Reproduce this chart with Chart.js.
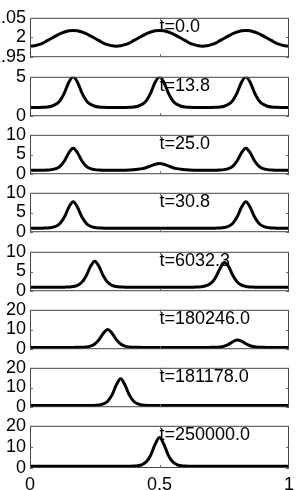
<!DOCTYPE html>
<html>
<head>
<meta charset="utf-8">
<script src="https://cdn.jsdelivr.net/npm/chart.js@4.4.1/dist/chart.umd.min.js"></script>
<style>
  html, body { margin: 0; padding: 0; background: #fff; }
  body { width: 301px; height: 490px; position: relative; overflow: hidden; }
  .panel { position: absolute; left: 0; width: 301px; }
</style>
</head>
<body>
<script>
// sample positions along x (0..1, step 1/60)
const xGrid = Array.from({ length: 61 }, (_, i) => i / 60);
const xTicks = [0, 0.5, 1];

const timeLabels = ["t=0.0", "t=13.8", "t=25.0", "t=30.8", "t=6032.3", "t=180246.0", "t=181178.0", "t=250000.0"];
const yRanges = [[1.95, 2.05], [0, 5], [0, 10], [0, 10], [0, 10], [0, 20], [0, 20], [0, 20]];
const yTicks = [[1.95, 2, 2.05], [0, 5], [0, 5, 10], [0, 5, 10], [0, 5, 10], [0, 10, 20], [0, 10, 20], [0, 10, 20]];

const u0 = [
  1.978, 1.979, 1.982, 1.986, 1.992, 1.998, 2.004, 2.010, 2.014, 2.017,
  2.018, 2.017, 2.014, 2.010, 2.004, 1.998, 1.992, 1.986, 1.982, 1.979,
  1.978, 1.979, 1.982, 1.986, 1.992, 1.998, 2.004, 2.010, 2.014, 2.017,
  2.018, 2.017, 2.014, 2.010, 2.004, 1.998, 1.992, 1.986, 1.982, 1.979,
  1.978, 1.979, 1.982, 1.986, 1.992, 1.998, 2.004, 2.010, 2.014, 2.017,
  2.018, 2.017, 2.014, 2.010, 2.004, 1.998, 1.992, 1.986, 1.982, 1.979,
  1.978];
const u1 = [
  1.1, 1.1, 1.11, 1.13, 1.17, 1.27, 1.51, 2.02, 3.0, 4.31,
  5.0, 4.31, 3.0, 2.02, 1.51, 1.27, 1.17, 1.13, 1.11, 1.1,
  1.1, 1.1, 1.11, 1.13, 1.17, 1.27, 1.51, 2.02, 3.0, 4.31,
  5.0, 4.31, 3.0, 2.02, 1.51, 1.27, 1.17, 1.13, 1.11, 1.1,
  1.1, 1.1, 1.11, 1.13, 1.17, 1.27, 1.51, 2.02, 3.0, 4.31,
  5.0, 4.31, 3.0, 2.02, 1.51, 1.27, 1.17, 1.13, 1.11, 1.1,
  1.1];
const u2 = [
  1.0, 1.0, 1.0, 1.02, 1.06, 1.16, 1.43, 2.07, 3.42, 5.45,
  6.6, 5.45, 3.42, 2.07, 1.43, 1.16, 1.06, 1.02, 1.0, 1.0,
  1.01, 1.02, 1.03, 1.06, 1.12, 1.23, 1.41, 1.71, 2.12, 2.52,
  2.7, 2.52, 2.12, 1.71, 1.41, 1.23, 1.12, 1.06, 1.03, 1.02,
  1.01, 1.0, 1.0, 1.02, 1.06, 1.16, 1.43, 2.07, 3.42, 5.45,
  6.6, 5.45, 3.42, 2.07, 1.43, 1.16, 1.06, 1.02, 1.0, 1.0,
  1.0];
const u3 = [
  1.0, 1.0, 1.0, 1.03, 1.07, 1.19, 1.51, 2.28, 3.9, 6.32,
  7.7, 6.32, 3.9, 2.28, 1.51, 1.19, 1.07, 1.03, 1.0, 1.0,
  1.0, 1.0, 1.0, 1.0, 1.0, 1.0, 1.0, 1.0, 1.0, 1.0,
  1.0, 1.0, 1.0, 1.0, 1.0, 1.0, 1.0, 1.0, 1.0, 1.0,
  1.0, 1.0, 1.0, 1.03, 1.07, 1.19, 1.51, 2.28, 3.9, 6.32,
  7.7, 6.32, 3.9, 2.28, 1.51, 1.19, 1.07, 1.03, 1.0, 1.0,
  1.0];
const u4 = [
  1.0, 1.0, 1.0, 1.0, 1.0, 1.0, 1.0, 1.0, 1.03, 1.07,
  1.19, 1.5, 2.26, 3.86, 6.24, 7.6, 6.24, 3.86, 2.26, 1.5,
  1.19, 1.07, 1.03, 1.0, 1.0, 1.0, 1.0, 1.0, 1.0, 1.0,
  1.0, 1.0, 1.0, 1.0, 1.0, 1.0, 1.0, 1.0, 1.03, 1.07,
  1.17, 1.46, 2.1, 3.5, 5.7, 7.3, 6.3, 4.0, 2.35, 1.55,
  1.21, 1.08, 1.03, 1.0, 1.0, 1.0, 1.0, 1.0, 1.0, 1.0,
  1.0];
const u5 = [
  0.9, 0.9, 0.9, 0.9, 0.9, 0.9, 0.9, 0.9, 0.9, 0.9,
  0.9, 0.94, 1.0, 1.16, 1.59, 2.64, 4.84, 8.13, 10.0, 8.13,
  4.84, 2.64, 1.59, 1.16, 1.0, 0.94, 0.9, 0.9, 0.9, 0.9,
  0.9, 0.9, 0.9, 0.9, 0.9, 0.9, 0.9, 0.9, 0.9, 0.9,
  0.9, 0.92, 0.94, 1.0, 1.16, 1.56, 2.42, 3.8, 4.7, 4.1,
  2.75, 1.75, 1.24, 1.03, 0.95, 0.92, 0.9, 0.9, 0.9, 0.9,
  0.9];
const u6 = [
  0.8, 0.8, 0.8, 0.8, 0.8, 0.8, 0.8, 0.8, 0.8, 0.8,
  0.8, 0.8, 0.8, 0.8, 0.84, 0.91, 1.1, 1.63, 3.03, 6.24,
  11.3, 14.4, 11.3, 6.24, 3.03, 1.63, 1.1, 0.91, 0.84, 0.8,
  0.8, 0.8, 0.8, 0.8, 0.8, 0.8, 0.8, 0.8, 0.8, 0.8,
  0.8, 0.8, 0.8, 0.8, 0.8, 0.8, 0.8, 0.8, 0.8, 0.8,
  0.8, 0.8, 0.8, 0.8, 0.8, 0.8, 0.8, 0.8, 0.8, 0.8,
  0.8];
const u7 = [
  0.8, 0.8, 0.8, 0.8, 0.8, 0.8, 0.8, 0.8, 0.8, 0.8,
  0.8, 0.8, 0.8, 0.8, 0.8, 0.8, 0.8, 0.8, 0.8, 0.8,
  0.8, 0.8, 0.8, 0.84, 0.91, 1.1, 1.63, 3.03, 6.24, 11.3,
  14.4, 11.3, 6.24, 3.03, 1.63, 1.1, 0.91, 0.84, 0.8, 0.8,
  0.8, 0.8, 0.8, 0.8, 0.8, 0.8, 0.8, 0.8, 0.8, 0.8,
  0.8, 0.8, 0.8, 0.8, 0.8, 0.8, 0.8, 0.8, 0.8, 0.8,
  0.8];
const series = [u0, u1, u2, u3, u4, u5, u6, u7];

// layout
const panelTops = [15, 74, 132, 190, 249, 307, 365, 423];
const panelHeight = 45;
const pad = 12;
const xAxisHeight = 22;
const fontFamily = '"Liberation Sans", Arial, sans-serif';

const framePlugin = {
  id: "frame",
  afterDraw(chart, args, opts) {
    const { ctx, chartArea: a, scales } = chart;
    ctx.save();
    ctx.strokeStyle = "#444";
    ctx.lineWidth = 1;
    ctx.strokeRect(a.left + 0.5, a.top + 0.5, a.right - a.left - 1, a.bottom - a.top - 1);
    // small inward ticks
    ctx.strokeStyle = "#666";
    ctx.beginPath();
    scales.y.ticks.forEach((t) => {
      const y = Math.round(scales.y.getPixelForValue(t.value)) + 0.5;
      ctx.moveTo(a.left, y);
      ctx.lineTo(a.left + 3, y);
      ctx.moveTo(a.right, y);
      ctx.lineTo(a.right - 3, y);
    });
    const xm = Math.round(scales.x.getPixelForValue(0.5)) + 0.5;
    ctx.moveTo(xm, a.top);
    ctx.lineTo(xm, a.top + 3);
    ctx.moveTo(xm, a.bottom);
    ctx.lineTo(xm, a.bottom - 3);
    ctx.stroke();
    // time label
    ctx.fillStyle = "#000";
    ctx.font = "18px " + fontFamily;
    ctx.textAlign = "left";
    ctx.textBaseline = "middle";
    ctx.fillText(opts.text, scales.x.getPixelForValue(0.5), a.top + 9.5);
    ctx.restore();
  },
};

document.addEventListener("DOMContentLoaded", () => {
  series.forEach((ys, i) => {
    const isLast = i === series.length - 1;
    const wrap = document.createElement("div");
    wrap.className = "panel";
    wrap.style.top = panelTops[i] - pad + "px";
    wrap.style.height = pad + panelHeight + (isLast ? xAxisHeight : pad) + "px";
    const canvas = document.createElement("canvas");
    wrap.appendChild(canvas);
    document.body.appendChild(wrap);

    const xScale = {
      type: "linear",
      min: 0,
      max: 1,
      display: isLast,
      afterBuildTicks: (s) => { s.ticks = xTicks.map((v) => ({ value: v })); },
      grid: { display: false, drawTicks: false },
      border: { display: false },
      ticks: {
        padding: 6,
        color: "#000",
        maxRotation: 0,
        autoSkip: false,
        font: { family: fontFamily, size: 18 },
        callback: (v) => String(v),
      },
    };
    if (isLast) xScale.afterFit = (s) => { s.height = xAxisHeight; };

    new Chart(canvas, {
      type: "line",
      data: {
        datasets: [
          {
            data: ys.map((y, k) => ({ x: xGrid[k], y: y })),
            borderColor: "#000",
            borderWidth: 3,
            pointRadius: 0,
            cubicInterpolationMode: "monotone",
            fill: false,
          },
        ],
      },
      options: {
        responsive: true,
        maintainAspectRatio: false,
        animation: false,
        events: [],
        layout: { padding: { top: pad, bottom: isLast ? 0 : pad, left: 0, right: 12 } },
        plugins: {
          legend: { display: false },
          tooltip: { enabled: false },
          frame: { text: timeLabels[i] },
        },
        scales: {
          x: xScale,
          y: {
            min: yRanges[i][0],
            max: yRanges[i][1],
            afterBuildTicks: (s) => { s.ticks = yTicks[i].map((v) => ({ value: v })); },
            afterFit: (s) => { s.width = 30; },
            grid: { display: false, drawTicks: false },
            border: { display: false },
            ticks: {
              padding: 4,
              color: "#000",
              autoSkip: false,
              font: { family: fontFamily, size: 18 },
              callback: (v) => String(v),
            },
          },
        },
      },
      plugins: [framePlugin],
    });
  });
});
</script>
</body>
</html>
